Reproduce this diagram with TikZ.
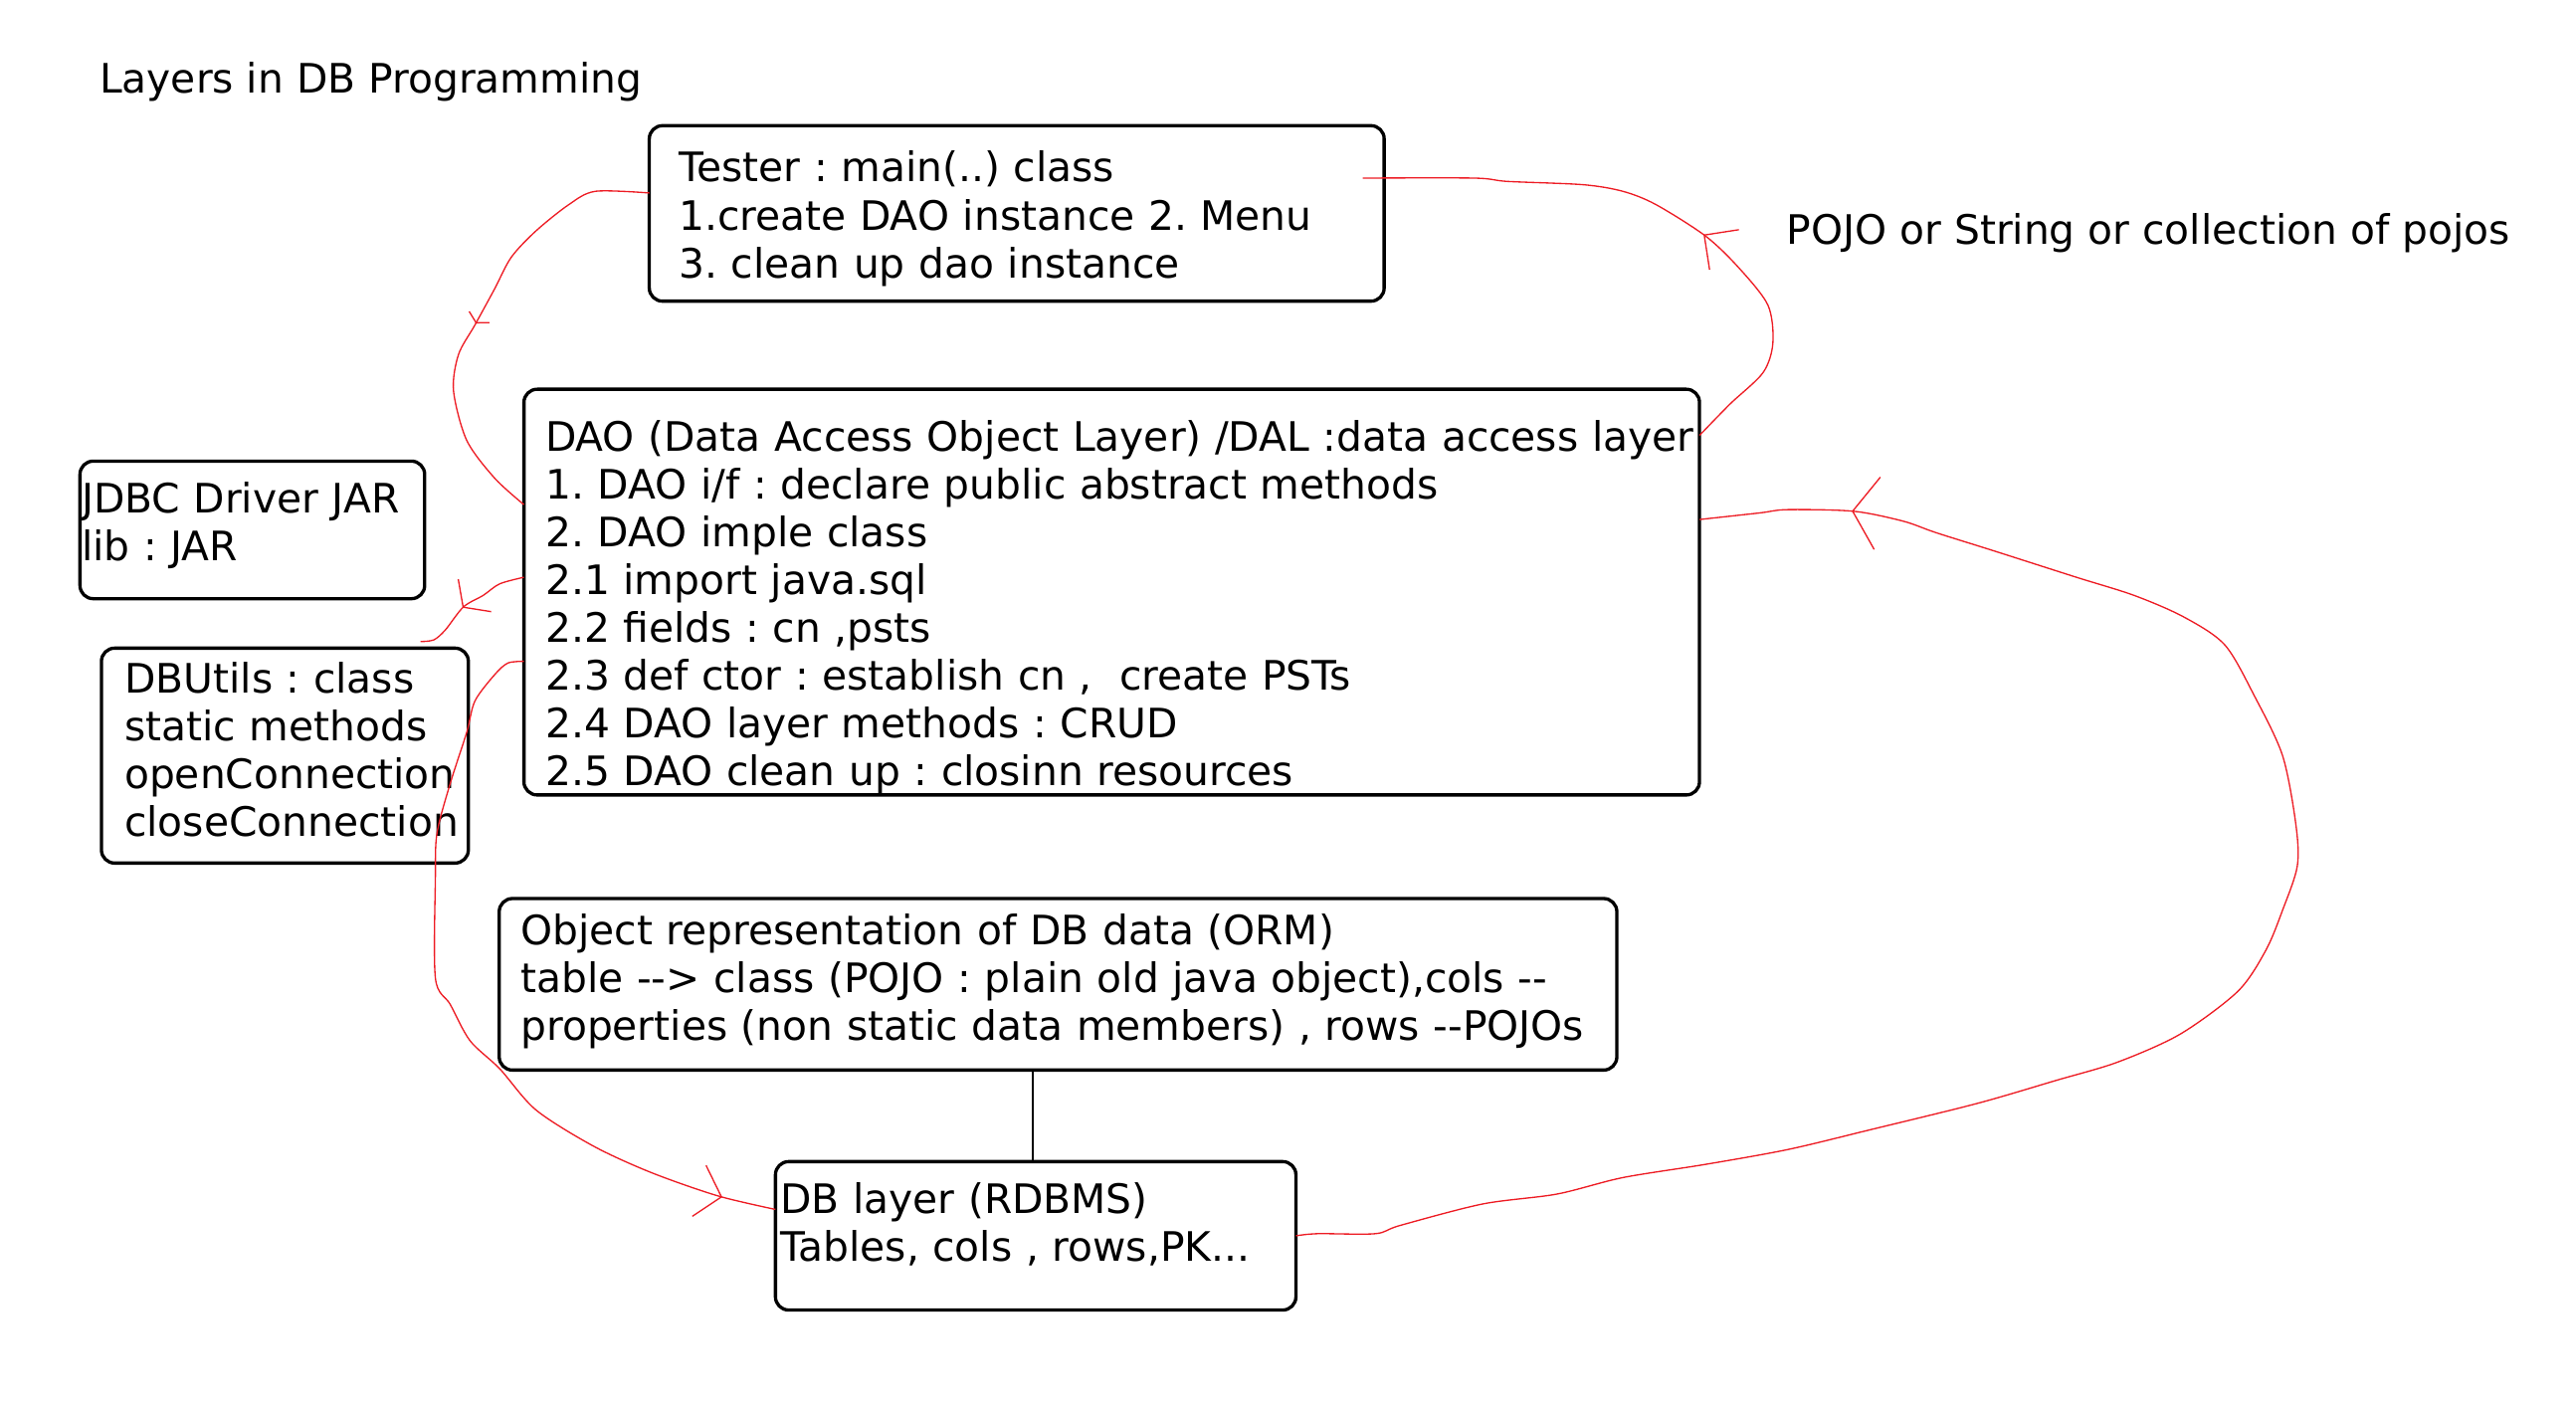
\documentclass[tikz,border=0pt]{standalone}
\usepackage{fontspec}
\setmainfont{DejaVu Sans}[Ligatures=TeXOff]
\usepackage{tikz}
\usetikzlibrary{arrows.meta}
\usetikzlibrary{calc}
\usetikzlibrary{decorations.markings}

\definecolor{paintred}{RGB}{237,28,36}
\newcommand{\boxtext}[1]{\begin{tabular}[t]{@{}l@{}}#1\end{tabular}}
\frenchspacing

\begin{document}
\begin{tikzpicture}
 [ x=0.5pt
 , y=-0.5pt
 , font=\fontsize{12.3pt}{14.5pt}\selectfont
 , box/.style={draw, line width=1pt, rounded corners=4pt, align=left, anchor=north west, inner ysep=0pt, outer sep=0pt}
 , plain/.style={anchor=base west, inner sep=0pt}
 , flow/.style={color=paintred, line width=0.4pt}
 , barb at/.style n args={3}{postaction={decorate, decoration={markings, mark=at position #1 with {\arrow{Straight Barb[length=#2, width=#3]}}}}}
 ]
  \useasboundingbox (0,0) rectangle (1562,854);

  \node[plain] (title) at (60,56.6) {Layers in DB Programming};
  \node[plain] (pojo) at (1083,148.1) {POJO or String or collection of pojos};

  \node[box, text width=204.8pt, inner xsep=9pt, text height=17.1pt, text depth=36.1pt] (tester) at (393.7,76.2)
    {\boxtext{Tester : main(..) class\\ 1.create DAO instance 2. Menu\\ 3. clean up dao instance}};
  \node[box, text width=343.4pt, inner xsep=6.5pt, text height=18.7pt, text depth=104.3pt] (dao) at (317.7,236)
    {\boxtext{DAO (Data Access Object Layer) /DAL :data access layer\\
      1. DAO i/f : declare public abstract methods\\
      2. DAO imple class\\
      2.1 import java.sql\\
      2.2 fields : cn ,psts\\
      2.3 def ctor : establish cn , \ create PSTs\\
      2.4 DAO layer methods : CRUD\\
      2.5 DAO clean up : closinn resources}};
  \node[box, text width=103.5pt, inner xsep=0.5pt, text height=15.7pt, text depth=26pt] (jdbc) at (48.5,279.6)
    {\boxtext{JDBC Driver JAR\\ lib : JAR}};
  \node[box, text width=97.25pt, inner xsep=7pt, text height=13.5pt, text depth=51.65pt] (dbutils) at (61.5,393)
    {\boxtext{DBUtils : class\\ static methods\\ openConnection\\ closeConnection}};
  \node[box, text width=325.85pt, inner xsep=6.5pt, text height=14.1pt, text depth=37.9pt] (orm) at (302.7,544.8)
    {\boxtext{Object representation of DB data (ORM)\\
      table --> class (POJO : plain old java object),cols --\\
      properties (non static data members) , rows --POJOs}};
  \node[box, text width=154.8pt, inner xsep=1.5pt, text height=15.85pt, text depth=29.15pt] (db) at (470.2,704.3)
    {\boxtext{DB layer (RDBMS)\\ Tables, cols , rows,PK...}};

  \draw[line width=0.6pt] ($(db.north |- orm.south)+(-2,0)$) -- ($(db.north)+(-2,0)$);

  % ends of the red strokes on the boxes
  \coordinate (t1) at ($(tester.west)+(0,-12.4)$);
  \coordinate (d1) at ($(dao.west)+(0,-53)$);
  \coordinate (d2) at ($(dao.east)+(0,-95)$);
  \coordinate (t2) at ($(tester.east)+(-13,-21.4)$);
  \coordinate (b3) at (db.east);
  \coordinate (d3) at ($(dao.east)+(0,-44)$);
  \coordinate (d4) at ($(dao.west)+(0,42)$);
  \coordinate (b4) at ($(db.west)+(0,-16)$);
  \coordinate (d5) at ($(dao.west)+(0,-9)$);
  \coordinate (u5) at ($(dbutils.north east)+(-29,-4)$);

  \draw[flow, barb at={0.53}{2pt}{7pt}] plot[smooth] coordinates
    {(t1) (361,116) (345,124) (325,140) (310,156) (300,175) (288,197) (278,215) (275,237) (283,267) (300,290) (d1)};
  \draw[flow, barb at={0.42}{7.5pt}{15pt}] plot[smooth] coordinates
    {(d2) (1049,245) (1069,226) (1075,208) (1072,185) (1054,162) (1034,143) (1004,124) (984,116) (960,112) (914,110) (894,108) (t2)};
  \draw[flow, barb at={0.92}{7.5pt}{22pt}] plot[smooth] coordinates
    {(b3) (799,748) (834,748) (849,743) (899,730) (944,724) (984,714) (1034,706) (1084,697) (1134,685) (1199,669)
     (1247,655) (1284,644) (1322,627) (1357,601) (1374,576) (1384,552) (1393,525) (1392,499) (1384,458) (1367,422)
     (1349,391) (1324,374) (1294,361) (1259,350) (1209,334) (1174,323) (1154,316) (1124,310) (1084,309) (1067,311) (d3)};
  \draw[flow, barb at={0.93}{7pt}{16pt}] plot[smooth] coordinates
    {(d4) (308,402) (300,409) (288,425) (283,444) (273,475) (265,505) (264,532) (264,593) (273,609) (285,631)
     (303,648) (325,673) (360,695) (395,711) (435,725) (b4)};
  \draw[flow, barb at={0.55}{5pt}{14pt}] plot[smooth] coordinates
    {(d5) (303,354) (293,361) (281,368) (270,382) (263,388) (u5)};
\end{tikzpicture}
\end{document}
